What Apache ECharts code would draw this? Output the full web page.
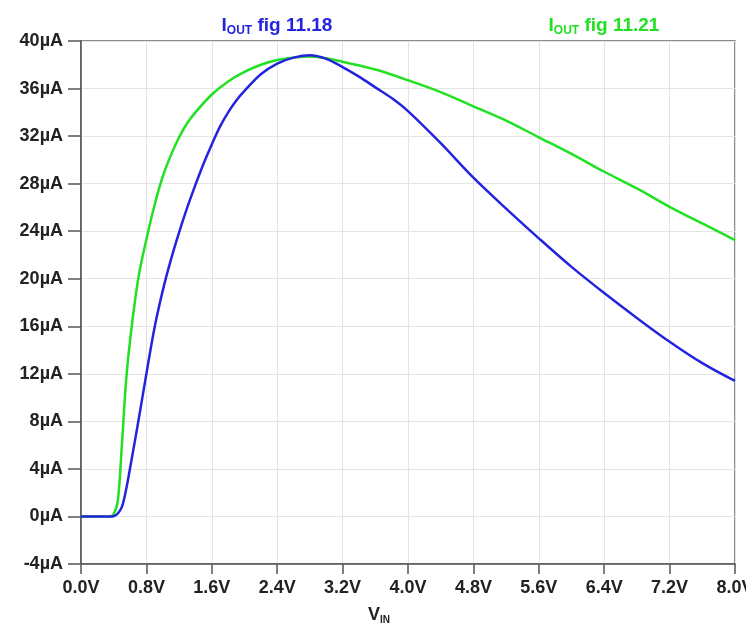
<!DOCTYPE html>
<html>
<head>
    <meta charset="utf-8" />
    <title>IOUT vs VIN</title>
</head>
<body style="margin:0;">
<script src="https://cdn.jsdelivr.net/npm/echarts@6.0.0/dist/echarts.min.js"></script>
<div id="main" style="width: 746px;height:625px;"></div>
<script type="text/javascript">
    // values (V, uA)
    var vin1118 = [0, 0.25, 0.3, 0.35, 0.4, 0.45, 0.5, 0.55, 0.6, 0.7, 0.8, 0.9, 1.0, 1.1, 1.2, 1.3, 1.4, 1.5, 1.6, 1.7, 1.8, 1.9, 2.0, 2.2, 2.4, 2.6, 2.8, 3.0, 3.2, 3.4, 3.6, 3.8, 4.0, 4.4, 4.8, 5.2, 5.6, 6.0, 6.4, 6.8, 7.2, 7.6, 8.0];
    var iout1118 = [0, 0, 0, 0, 0.02, 0.25, 0.8, 2.2, 4.05, 7.95, 12.0, 15.9, 19.0, 21.6, 23.9, 26.0, 27.9, 29.7, 31.3, 32.8, 34.0, 35.0, 35.8, 37.2, 38.1, 38.6, 38.8, 38.5, 37.8, 37.0, 36.1, 35.2, 34.1, 31.4, 28.5, 25.9, 23.4, 21.0, 18.8, 16.7, 14.7, 12.9, 11.4];

    var vin1121 = [0, 0.25, 0.3, 0.35, 0.4, 0.45, 0.5, 0.55, 0.6, 0.7, 0.8, 0.9, 1.0, 1.1, 1.2, 1.3, 1.4, 1.6, 1.8, 2.0, 2.2, 2.4, 2.6, 2.8, 3.0, 3.2, 3.6, 4.0, 4.4, 4.8, 5.2, 5.6, 6.0, 6.4, 6.8, 7.2, 7.6, 8.0];
    var iout1121 = [0, 0, 0, 0, 0.2, 1.3, 6.0, 11.3, 14.8, 20.0, 23.3, 26.2, 28.6, 30.4, 31.9, 33.1, 34.0, 35.5, 36.6, 37.4, 38.0, 38.4, 38.6, 38.7, 38.55, 38.25, 37.6, 36.7, 35.7, 34.5, 33.3, 31.9, 30.5, 29.0, 27.6, 26.05, 24.65, 23.25];

    var xTicks = { min: 0, max: 8, interval: 0.8 };
    var yTicks = { min: -4, max: 40, interval: 4 };

    var blue = '#2424e0';
    var green = '#22e022';

    function pairs(xs, ys) {
        return xs.map(function (x, i) { return [x, ys[i]]; });
    }

    var myChart = echarts.init(document.getElementById('main'));

    var labelFont = {
        color: '#222',
        fontFamily: 'Liberation Sans',
        fontWeight: 'bold',
        fontSize: 18
    };

    function titleRich(color) {
        return {
            i: { color: color, fontFamily: 'Liberation Sans', fontWeight: 'bold', fontSize: 19 },
            s: { color: color, fontFamily: 'Liberation Sans', fontWeight: 'bold', fontSize: 12, padding: [10, 0, 0, 0] }
        };
    }

    var option = {
        animation: false,
        backgroundColor: '#fff',
        title: [
            {
                text: '{i|I}{s|OUT}{i| fig 11.18}',
                left: 272, top: 10, textAlign: 'center',
                textStyle: { rich: titleRich(blue) }
            },
            {
                text: '{i|I}{s|OUT}{i| fig 11.21}',
                left: 599, top: 10, textAlign: 'center',
                textStyle: { rich: titleRich(green) }
            },
            {
                text: '{i|V}{s|IN}',
                left: 374, top: 601, textAlign: 'center',
                textStyle: { rich: {
                    i: { color: '#222', fontFamily: 'Liberation Sans', fontWeight: 'bold', fontSize: 18 },
                    s: { color: '#222', fontFamily: 'Liberation Sans', fontWeight: 'bold', fontSize: 10, padding: [9, 0, 0, 0] }
                } }
            }
        ],
        grid: {
            left: 81, right: 11, top: 41, bottom: 61,
            outerBoundsMode: 'none',
            containLabel: false,
            show: true,
            borderColor: '#666',
            borderWidth: 1.5
        },
        xAxis: {
            type: 'value',
            min: xTicks.min, max: xTicks.max, interval: xTicks.interval,
            axisLine: { show: true, onZero: false, lineStyle: { color: '#555', width: 1.5 } },
            axisTick: { show: true, inside: false, length: 10, lineStyle: { color: '#555', width: 1.5 } },
            axisLabel: Object.assign({ margin: 15, formatter: function (v) { return v.toFixed(1) + 'V'; } }, labelFont),
            splitLine: { show: true, lineStyle: { color: '#e4e4e4', width: 1 } }
        },
        yAxis: {
            type: 'value',
            min: yTicks.min, max: yTicks.max, interval: yTicks.interval,
            axisLine: { show: true, onZero: false, lineStyle: { color: '#555', width: 1.5 } },
            axisTick: { show: true, inside: false, length: 13, lineStyle: { color: '#555', width: 1.5 } },
            axisLabel: Object.assign({ margin: 18, formatter: function (v) { return v + 'µA'; } }, labelFont),
            splitLine: { show: true, lineStyle: { color: '#e4e4e4', width: 1 } }
        },
        series: [
            {
                name: 'IOUT fig 11.21',
                type: 'line',
                smooth: 0.35,
                showSymbol: false,
                lineStyle: { color: green, width: 2.5 },
                data: pairs(vin1121, iout1121)
            },
            {
                name: 'IOUT fig 11.18',
                type: 'line',
                smooth: 0.35,
                showSymbol: false,
                lineStyle: { color: blue, width: 2.5 },
                data: pairs(vin1118, iout1118)
            }
        ]
    };

    myChart.setOption(option);
</script>
</body>
</html>
